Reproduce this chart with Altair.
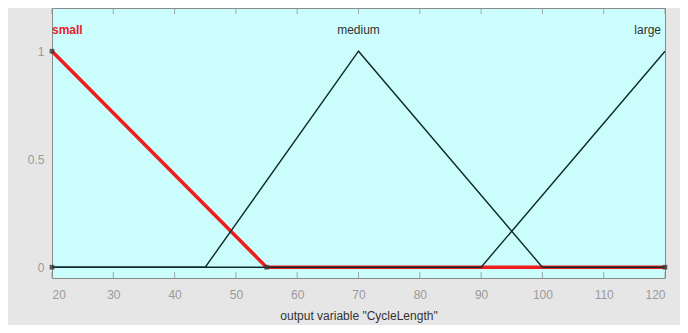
import altair as alt
import pandas as pd

# Membership functions (vertices)
small_x = [20, 55, 120]
small_y = [1, 0, 0]
medium_x = [20, 45, 70, 100, 120]
medium_y = [0, 0, 1, 0, 0]
large_x = [20, 90, 120]
large_y = [0, 0, 1]

mf_names = ["small", "medium", "large"]
label_x = [20, 70, 120]
label_y = [1.1, 1.1, 1.1]

x_ticks = [20, 30, 40, 50, 60, 70, 80, 90, 100, 110, 120]
y_ticks = [0, 0.5, 1]

marker_x = [20, 20, 55, 120]
marker_y = [1, 0, 0, 0]

xs = alt.Scale(domain=[20, 120], nice=False, zero=False)
ys = alt.Scale(domain=[-0.05, 1.2], nice=False, zero=False)

df_small = pd.DataFrame({"x": small_x, "y": small_y, "o": range(len(small_x))})
df_black = pd.concat([
    pd.DataFrame({"x": medium_x, "y": medium_y, "mf": "medium", "o": range(len(medium_x))}),
    pd.DataFrame({"x": large_x, "y": large_y, "mf": "large", "o": range(len(large_x))}),
])

X = alt.X("x:Q", scale=xs, axis=alt.Axis(values=x_ticks, title='output variable "CycleLength"'))
Y = alt.Y("y:Q", scale=ys, axis=alt.Axis(values=y_ticks, title=None, labelExpr="'' + datum.value"))

red = alt.Chart(df_small).mark_line(color="#ee1c1c", strokeWidth=3.5).encode(x=X, y=Y, order="o:Q")
black = alt.Chart(df_black).mark_line(color="#0f2a2a", strokeWidth=1.4).encode(
    x=X, y=Y, detail="mf:N", order="o:Q")

markers = alt.Chart(pd.DataFrame({"x": marker_x, "y": marker_y})).mark_square(
    size=22, color="#3a3a3a", opacity=0.8).encode(x=X, y=Y)

labels_df = pd.DataFrame({"x": label_x, "y": label_y, "t": mf_names})
lab_small = alt.Chart(labels_df.iloc[[0]]).mark_text(
    align="left", baseline="middle", color="#e8202a", fontWeight="bold", fontSize=12, font="Liberation Sans"
).encode(x=X, y=Y, text="t:N")
lab_med = alt.Chart(labels_df.iloc[[1]]).mark_text(
    align="center", baseline="middle", color="#333333", fontSize=12, font="Liberation Sans"
).encode(x=X, y=Y, text="t:N")
lab_large = alt.Chart(labels_df.iloc[[2]]).mark_text(
    align="right", baseline="middle", color="#333333", fontSize=12, font="Liberation Sans", dx=-4
).encode(x=X, y=Y, text="t:N")

xt = pd.DataFrame({"x": x_ticks})
xticks_bottom = alt.Chart(xt).mark_tick(color="#888888", size=6, thickness=1).encode(
    x=alt.X("x:Q", scale=xs), y=alt.value(267))
xticks_top = alt.Chart(xt).mark_tick(color="#888888", size=6, thickness=1).encode(
    x=alt.X("x:Q", scale=xs), y=alt.value(3))

chart = alt.layer(
    xticks_bottom, xticks_top, red, black, markers, lab_small, lab_med, lab_large
).properties(
    width=613, height=270,
    autosize=alt.AutoSizeParams(type="none"),
    padding={"left": 44, "top": 0, "right": 15, "bottom": 47},
    background="#e6e6e6",
).configure_view(
    fill="#ccfdfd", stroke="#8a8a8a", strokeWidth=1
).configure_axis(
    grid=False, domain=False, ticks=False,
    labelColor="#9a9a9a", labelFontSize=12, labelFont="Liberation Sans",
    titleColor="#333333", titleFontSize=12, titleFont="Liberation Sans", titleFontWeight="normal",
).configure_axisX(
    labelPadding=11, titlePadding=10
).configure_axisY(
    labelPadding=8
)

chart.save("out.html", embed_options={"renderer": "svg", "actions": False})
